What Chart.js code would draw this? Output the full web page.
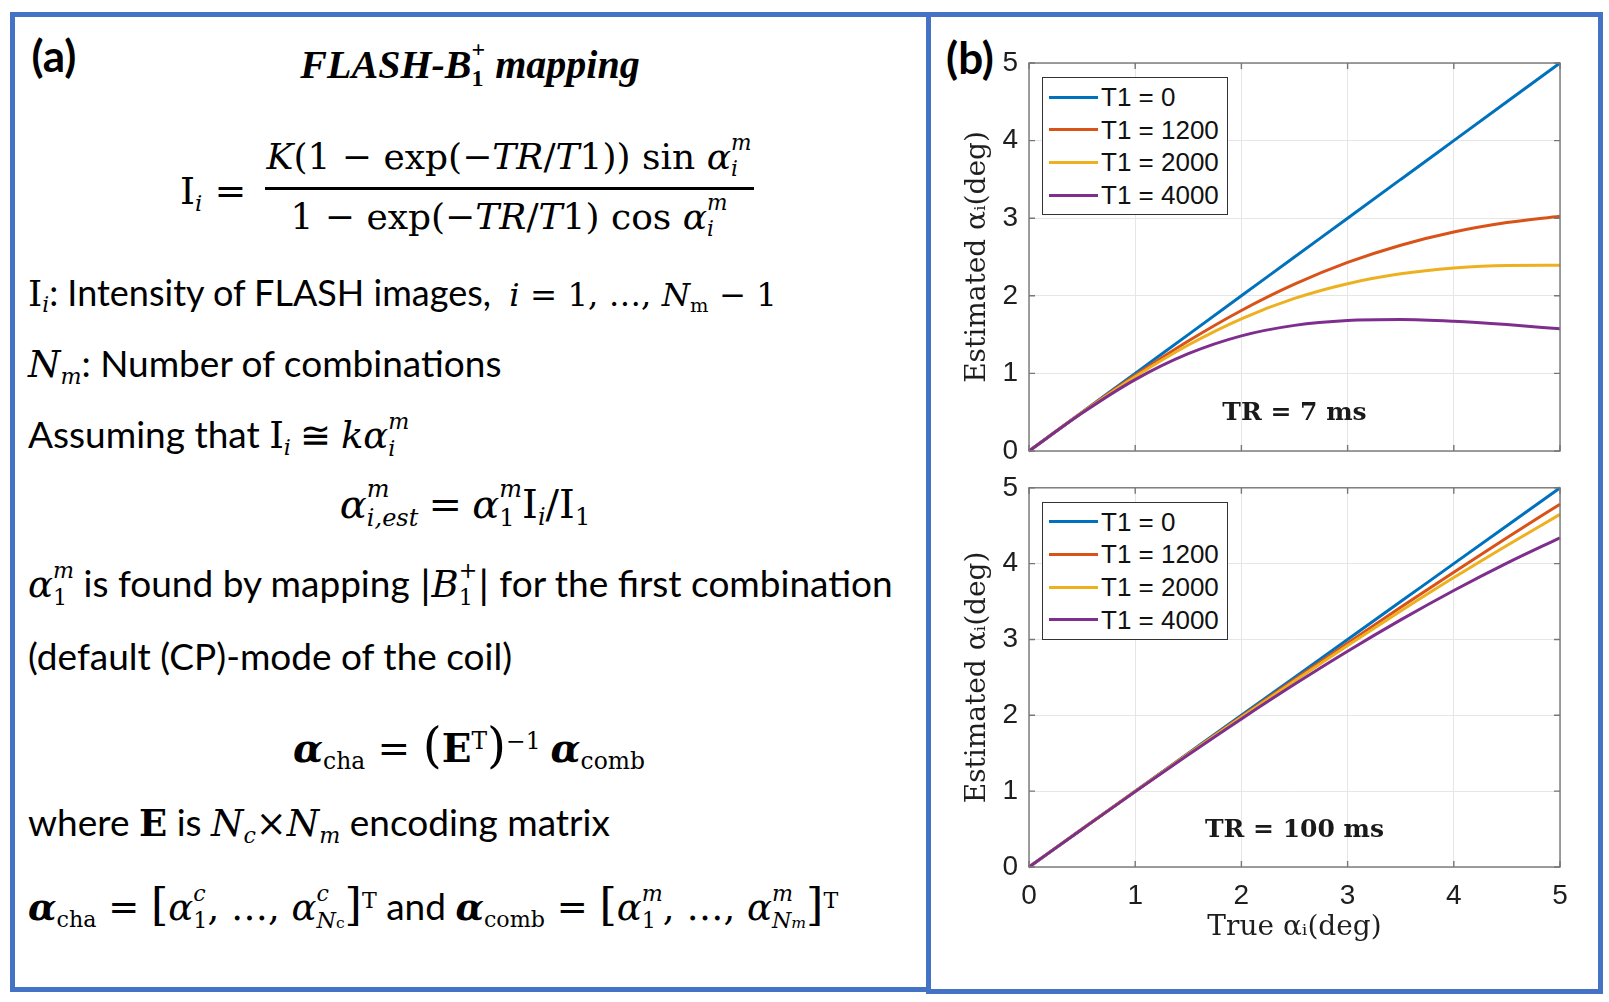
<!DOCTYPE html>
<html>
<head>
<meta charset="utf-8">
<script src="https://cdn.jsdelivr.net/npm/chart.js@4.4.1/dist/chart.umd.min.js"></script>
<style>
  html,body{margin:0;padding:0;background:#fff;}
  body{width:1609px;height:1002px;overflow:hidden;position:relative;font-family:'Lato',sans-serif;color:#000;}
  .box{position:absolute;border:5px solid #4472C4;box-sizing:border-box;}
  .t{position:absolute;white-space:nowrap;line-height:1;transform:translateY(-50%);font-size:37px;}
  .c{transform:translate(-50%,-50%);}
  .m{font-family:'DejaVu Serif',serif;font-style:italic;}
  .r{font-family:'DejaVu Serif',serif;font-style:normal;}
  .sb{font-size:0.6em;position:relative;top:0.3em;}
  .sp{font-size:0.6em;position:relative;top:-0.55em;}
  .ss{display:inline-block;vertical-align:-0.34em;font-size:0.6em;line-height:1.2;text-align:left;}
  .ss>span{display:block;}
  .lab{position:absolute;font-family:'Lato',sans-serif;font-weight:bold;font-size:44px;line-height:1;transform:translate(-50%,-50%);}
  canvas{position:absolute;}
  .legend{position:absolute;border:1px solid #333;background:#fff;box-sizing:border-box;}
  .legrow{position:absolute;left:0;right:0;height:0;}
  .sw{position:absolute;left:6px;width:49px;height:3px;top:-1.5px;}
  .lt{position:absolute;left:58px;top:0;transform:translateY(-50%);font-family:'Liberation Sans',sans-serif;font-size:26px;line-height:1;color:#111;white-space:nowrap;}
  .tr{position:absolute;transform:translate(-50%,-50%);font-family:'DejaVu Serif',serif;font-weight:bold;font-size:25px;line-height:1;color:#1a1a1a;white-space:nowrap;}
</style>
</head>
<body>
<div class="box" style="left:10px;top:12px;width:921px;height:980px;"></div>
<div class="box" style="left:926px;top:12px;width:677px;height:982px;"></div>

<!-- Panel (a) -->
<div class="lab" style="left:54px;top:55px;">(a)</div>
<div class="t c" style="left:470px;top:64px;font-family:'Liberation Serif',serif;font-weight:bold;font-style:italic;font-size:40px;">FLASH-B<span class="ss" style="font-style:normal"><span>+</span><span>1</span></span> mapping</div>

<div class="t" style="left:180px;top:190px;font-size:38px;"><span class="r">I</span><span class="sb m">i</span><span class="r"> =</span></div>
<div class="t c" style="left:509px;top:156px;font-size:36px;"><span class="m">K</span><span class="r">(1 − exp(−</span><span class="m">TR</span><span class="r">/</span><span class="m">T</span><span class="r">1)) sin </span><span class="m">α</span><span class="ss m"><span>m</span><span>i</span></span></div>
<div style="position:absolute;left:265px;top:187px;width:489px;height:3px;background:#000;"></div>
<div class="t c" style="left:509px;top:216px;font-size:36px;"><span class="r">1 − exp(−</span><span class="m">TR</span><span class="r">/</span><span class="m">T</span><span class="r">1) cos </span><span class="m">α</span><span class="ss m"><span>m</span><span>i</span></span></div>

<div class="t" style="left:28px;top:293px;font-size:36px;"><span class="r">I</span><span class="sb m">i</span>: Intensity of FLASH images,&nbsp; <span style="font-size:0.9em"><span class="m">i</span><span class="r"> = 1, …, </span><span class="m">N</span><span class="sb r">m</span><span class="r"> − 1</span></span></div>
<div class="t" style="left:28px;top:363px;"><span class="m">N</span><span class="sb m">m</span>: Number of combinations</div>
<div class="t" style="left:28px;top:435px;">Assuming that <span class="r">I</span><span class="sb m">i</span> <span class="r">≅</span> <span class="m">kα</span><span class="ss m"><span>m</span><span>i</span></span></div>
<div class="t c" style="left:465px;top:504px;font-size:40px;"><span class="m">α</span><span class="ss m"><span>m</span><span>i,est</span></span> <span class="r">=</span> <span class="m">α</span><span class="ss"><span class="m">m</span><span class="r">1</span></span><span class="r">I</span><span class="sb m">i</span><span class="r">/I</span><span class="sb r">1</span></div>
<div class="t" style="left:28px;top:584px;"><span class="m">α</span><span class="ss"><span class="m">m</span><span class="r">1</span></span> is found by mapping <span class="r">|</span><span class="m">B</span><span class="ss r"><span>+</span><span>1</span></span><span class="r">|</span> for the first combination</div>
<div class="t" style="left:28px;top:655px;">(default (CP)-mode of the coil)</div>
<div class="t c" style="left:469px;top:745px;font-size:39px;"><b class="m">α</b><span class="sb r">cha</span><span class="r"> = </span><span class="r" style="font-size:1.25em;">(</span><b class="r">E</b><span class="sp r">T</span><span class="r" style="font-size:1.25em;">)</span><span class="sp r">−1</span> <b class="m">α</b><span class="sb r">comb</span></div>
<div class="t" style="left:28px;top:822px;">where <b class="r">E</b> is <span class="m">N</span><span class="sb m">c</span><span class="r">×</span><span class="m">N</span><span class="sb m">m</span> encoding matrix</div>
<div class="t" style="left:28px;top:907px;"><b class="m">α</b><span class="sb r">cha</span><span class="r"> = </span><span class="r" style="font-size:1.2em;">[</span><span class="m">α</span><span class="ss"><span class="m">c</span><span class="r">1</span></span><span class="r">, …, </span><span class="m">α</span><span class="ss"><span class="m">c</span><span><span class="m">N</span><span class="r" style="font-size:0.7em">c</span></span></span><span class="r" style="font-size:1.2em;">]</span><span class="sp r">T</span> and <b class="m">α</b><span class="sb r">comb</span><span class="r"> = </span><span class="r" style="font-size:1.2em;">[</span><span class="m">α</span><span class="ss"><span class="m">m</span><span class="r">1</span></span><span class="r">, …, </span><span class="m">α</span><span class="ss"><span class="m">m</span><span><span class="m">N</span><span class="m" style="font-size:0.7em">m</span></span></span><span class="r" style="font-size:1.2em;">]</span><span class="sp r">T</span></div>

<!-- Panel (b) -->
<div class="lab" style="left:970px;top:57px;">(b)</div>
<canvas id="c1" width="660" height="450" style="left:930px;top:30px;width:660px;height:450px;"></canvas>
<canvas id="c2" width="660" height="500" style="left:930px;top:460px;width:660px;height:500px;"></canvas>

<script>
// ---- data ----
const trueAlpha = [0, 0.5, 1, 1.5, 2, 2.5, 3, 3.5, 4, 4.5, 5];
const t1Labels = ['T1 = 0', 'T1 = 1200', 'T1 = 2000', 'T1 = 4000'];
const lineColors = ['#0072BD', '#D95319', '#EDB120', '#7E2F8E'];
const axisTicks = [0, 1, 2, 3, 4, 5];
const trTexts = ['TR = 7 ms', 'TR = 100 ms'];

// TR = 7 ms
const tr7_T1_0    = [0, 0.50, 1.00, 1.50, 2.00, 2.50, 3.00, 3.50, 4.00, 4.50, 5.00];
const tr7_T1_1200 = [0, 0.497, 0.975, 1.417, 1.811, 2.150, 2.430, 2.652, 2.822, 2.944, 3.026];
const tr7_T1_2000 = [0, 0.495, 0.958, 1.366, 1.704, 1.966, 2.156, 2.283, 2.358, 2.392, 2.395];
const tr7_T1_4000 = [0, 0.489, 0.920, 1.254, 1.484, 1.619, 1.682, 1.694, 1.672, 1.629, 1.574];

// TR = 100 ms
const tr100_T1_0    = [0, 0.50, 1.00, 1.50, 2.00, 2.50, 3.00, 3.50, 4.00, 4.50, 5.00];
const tr100_T1_1200 = [0, 0.500, 0.998, 1.494, 1.986, 2.472, 2.952, 3.424, 3.888, 4.341, 4.784];
const tr100_T1_2000 = [0, 0.500, 0.997, 1.490, 1.976, 2.454, 2.921, 3.375, 3.816, 4.240, 4.649];
const tr100_T1_4000 = [0, 0.499, 0.994, 1.480, 1.953, 2.409, 2.845, 3.258, 3.646, 4.007, 4.341];

const panels = [
  {id: 'c1', left: 930, top: 30, padTop: 33, xHeight: 29, showX: false,
   series: [tr7_T1_0, tr7_T1_1200, tr7_T1_2000, tr7_T1_4000], tr: trTexts[0]},
  {id: 'c2', left: 930, top: 460, padTop: 21, xHeight: 93, showX: true,
   series: [tr100_T1_0, tr100_T1_1200, tr100_T1_2000, tr100_T1_4000], tr: trTexts[1]}
];

const boxColor = '#777777';
const textColor = '#1e1e1e';

const boxPlugin = {
  id: 'boxTicks',
  afterDraw(chart) {
    const {ctx, chartArea: a, scales: {x, y}} = chart;
    ctx.save();
    ctx.strokeStyle = boxColor;
    ctx.lineWidth = 1.4;
    ctx.strokeRect(a.left, a.top, a.right - a.left, a.bottom - a.top);
    const L = 6;
    axisTicks.forEach(v => {
      const px = x.getPixelForValue(v);
      const py = y.getPixelForValue(v);
      ctx.beginPath();
      ctx.moveTo(px, a.bottom); ctx.lineTo(px, a.bottom - L);
      ctx.moveTo(px, a.top); ctx.lineTo(px, a.top + L);
      ctx.moveTo(a.left, py); ctx.lineTo(a.left + L, py);
      ctx.moveTo(a.right, py); ctx.lineTo(a.right - L, py);
      ctx.stroke();
    });
    ctx.restore();
  }
};

panels.forEach(p => {
  const datasets = p.series.map((vals, i) => ({
    label: t1Labels[i],
    data: trueAlpha.map((xv, k) => ({x: xv, y: vals[k]})),
    borderColor: lineColors[i],
    backgroundColor: lineColors[i],
    borderWidth: 3,
    pointRadius: 0,
    cubicInterpolationMode: 'monotone',
    order: 4 - i,
    clip: 4
  }));
  const chart = new Chart(document.getElementById(p.id), {
    type: 'line',
    data: {datasets},
    plugins: [boxPlugin],
    options: {
      responsive: false,
      animation: false,
      devicePixelRatio: 1,
      layout: {padding: {top: p.padTop, right: 30, left: 0, bottom: 0}},
      plugins: {legend: {display: false}, tooltip: {enabled: false}},
      scales: {
        x: {
          type: 'linear', min: 0, max: 5,
          afterBuildTicks: s => { s.ticks = axisTicks.map(v => ({value: v})); },
          afterFit: s => { s.height = p.xHeight; },
          grid: {color: '#e6e6e6', lineWidth: 1, drawTicks: false},
          border: {display: false},
          ticks: {display: p.showX, padding: 12, color: textColor,
                  font: {family: 'Liberation Sans', size: 28}},
          title: {display: p.showX, text: 'True αᵢ(deg)', color: textColor,
                  font: {family: 'DejaVu Serif', size: 28}, padding: {top: 0, bottom: 15}}
        },
        y: {
          type: 'linear', min: 0, max: 5,
          afterBuildTicks: s => { s.ticks = axisTicks.map(v => ({value: v})); },
          afterFit: s => { s.width = 99; },
          grid: {color: '#e6e6e6', lineWidth: 1, drawTicks: false},
          border: {display: false},
          ticks: {padding: 11, color: textColor, font: {family: 'Liberation Sans', size: 28}},
          title: {display: true, text: 'Estimated αᵢ(deg)', color: textColor,
                  font: {family: 'DejaVu Serif', size: 28}, padding: {top: 31, bottom: 0}}
        }
      }
    }
  });

  // HTML legend placed inside the plot area
  const a = chart.chartArea;
  const leg = document.createElement('div');
  leg.className = 'legend';
  leg.style.left = (p.left + a.left + 13) + 'px';
  leg.style.top = (p.top + a.top + 14) + 'px';
  leg.style.width = '186px';
  leg.style.height = '138px';
  t1Labels.forEach((lab, i) => {
    const row = document.createElement('div');
    row.className = 'legrow';
    row.style.top = (19 + i * 32.7) + 'px';
    const sw = document.createElement('div');
    sw.className = 'sw';
    sw.style.background = lineColors[i];
    const tx = document.createElement('div');
    tx.className = 'lt';
    tx.textContent = lab;
    row.appendChild(sw); row.appendChild(tx);
    leg.appendChild(row);
  });
  document.body.appendChild(leg);

  // TR annotation
  const tr = document.createElement('div');
  tr.className = 'tr';
  tr.textContent = p.tr;
  tr.style.left = (p.left + chart.scales.x.getPixelForValue(2.5)) + 'px';
  tr.style.top = (p.top + chart.scales.y.getPixelForValue(0.52)) + 'px';
  document.body.appendChild(tr);
});
</script>
</body>
</html>
